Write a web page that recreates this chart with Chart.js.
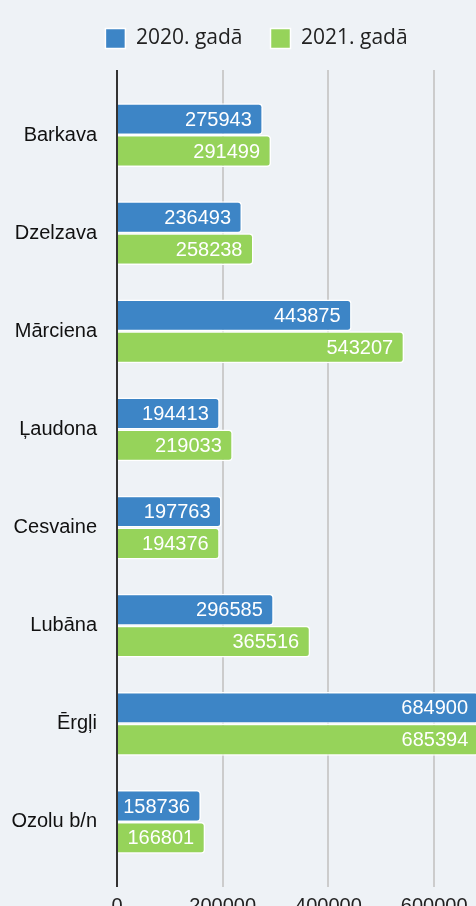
<!DOCTYPE html>
<html>
<head>
<meta charset="utf-8">
<script src="https://cdn.jsdelivr.net/npm/chart.js@4/dist/chart.umd.min.js"></script>
<style>
  html, body { margin: 0; padding: 0; background: #eef2f6; overflow: hidden; width: 476px; height: 906px; }
  #wrap { width: 519px; height: 927px; }
  canvas { display: block; }
</style>
</head>
<body>
<div id="wrap"><canvas id="chart" width="519" height="927"></canvas></div>
<script>
const categories = ['Barkava', 'Dzelzava', 'Mārciena', 'Ļaudona', 'Cesvaine', 'Lubāna', 'Ērgļi', 'Ozolu b/n'];
const values2020 = [275943, 236493, 443875, 194413, 197763, 296585, 684900, 158736];
const values2021 = [291499, 258238, 543207, 219033, 194376, 365516, 685394, 166801];
const seriesNames = ['2020. gadā', '2021. gadā'];
const xTicks = [0, 200000, 400000, 600000];
const xMax = 700000;

const gridColor = (c) => c.tick && c.tick.value === 0 ? '#333333' : '#cccccc';
const setTicks = (s) => { s.ticks = xTicks.map(v => ({ value: v })); };

// white numbers inside the bar ends
const barLabels = {
    id: 'barLabels',
    afterDatasetsDraw(chart) {
        const ctx = chart.ctx;
        ctx.save();
        ctx.font = '20px "Liberation Sans", Arial, sans-serif';
        ctx.fillStyle = '#ffffff';
        ctx.textAlign = 'right';
        ctx.textBaseline = 'middle';
        chart.data.datasets.forEach((ds, i) => {
            chart.getDatasetMeta(i).data.forEach((bar, j) => {
                ctx.fillText(String(ds.data[j]), bar.x - 11, bar.y + 1);
            });
        });
        ctx.restore();
    }
};

// fixed legend block height so the plot starts lower, nudged right a bit
const legendTweak = {
    id: 'legendTweak',
    beforeInit(chart) {
        const lg = chart.legend;
        const fit = lg.fit;
        lg.fit = function () {
            fit.call(this);
            this.height = 70;
        };
        const draw = lg.draw;
        lg.draw = function () {
            this.ctx.save();
            this.ctx.translate(13, 0);
            draw.call(this);
            this.ctx.restore();
        };
    }
};

new Chart(document.getElementById('chart').getContext('2d'), {
    type: 'bar',
    data: {
        labels: categories,
        datasets: [{
            label: seriesNames[0],
            data: values2020,
            backgroundColor: '#3d85c6',
            borderColor: '#ffffff',
            borderWidth: 1.5,
            borderRadius: 4,
            borderSkipped: 'start'
        }, {
            label: seriesNames[1],
            data: values2021,
            backgroundColor: '#96d35a',
            borderColor: '#ffffff',
            borderWidth: 1.5,
            borderRadius: 4,
            borderSkipped: 'start'
        }]
    },
    options: {
        indexAxis: 'y',
        responsive: false,
        maintainAspectRatio: false,
        animation: false,
        categoryPercentage: 0.65,
        barPercentage: 1.0,
        layout: { padding: { left: 0, right: 32, top: 0, bottom: 2 } },
        plugins: {
            legend: {
                labels: {
                    color: '#222222',
                    font: { family: '"Open Sans", sans-serif', size: 21 },
                    boxWidth: 20,
                    boxHeight: 20,
                    padding: 28
                }
            },
            tooltip: { enabled: false }
        },
        scales: {
            x: {
                min: 0,
                max: xMax,
                afterBuildTicks: setTicks,
                ticks: {
                    color: '#222222',
                    padding: 7,
                    maxRotation: 0,
                    minRotation: 0,
                    autoSkip: false,
                    font: { family: '"Liberation Sans", Arial, sans-serif', size: 20 },
                    callback: (v) => String(v)
                },
                grid: { color: gridColor, lineWidth: 2, tickLength: 16 },
                border: { display: false }
            },
            x2: {
                position: 'top',
                min: 0,
                max: xMax,
                afterBuildTicks: setTicks,
                ticks: { display: false },
                grid: { color: gridColor, lineWidth: 2, tickLength: 16, drawOnChartArea: false },
                border: { display: false }
            },
            y: {
                afterFit: (s) => { s.width = 117; },
                ticks: {
                    color: '#111111',
                    padding: 12,
                    font: { family: '"Liberation Sans", Arial, sans-serif', size: 20 }
                },
                grid: { display: false },
                border: { display: false }
            }
        }
    },
    plugins: [barLabels, legendTweak]
});
</script>
</body>
</html>
